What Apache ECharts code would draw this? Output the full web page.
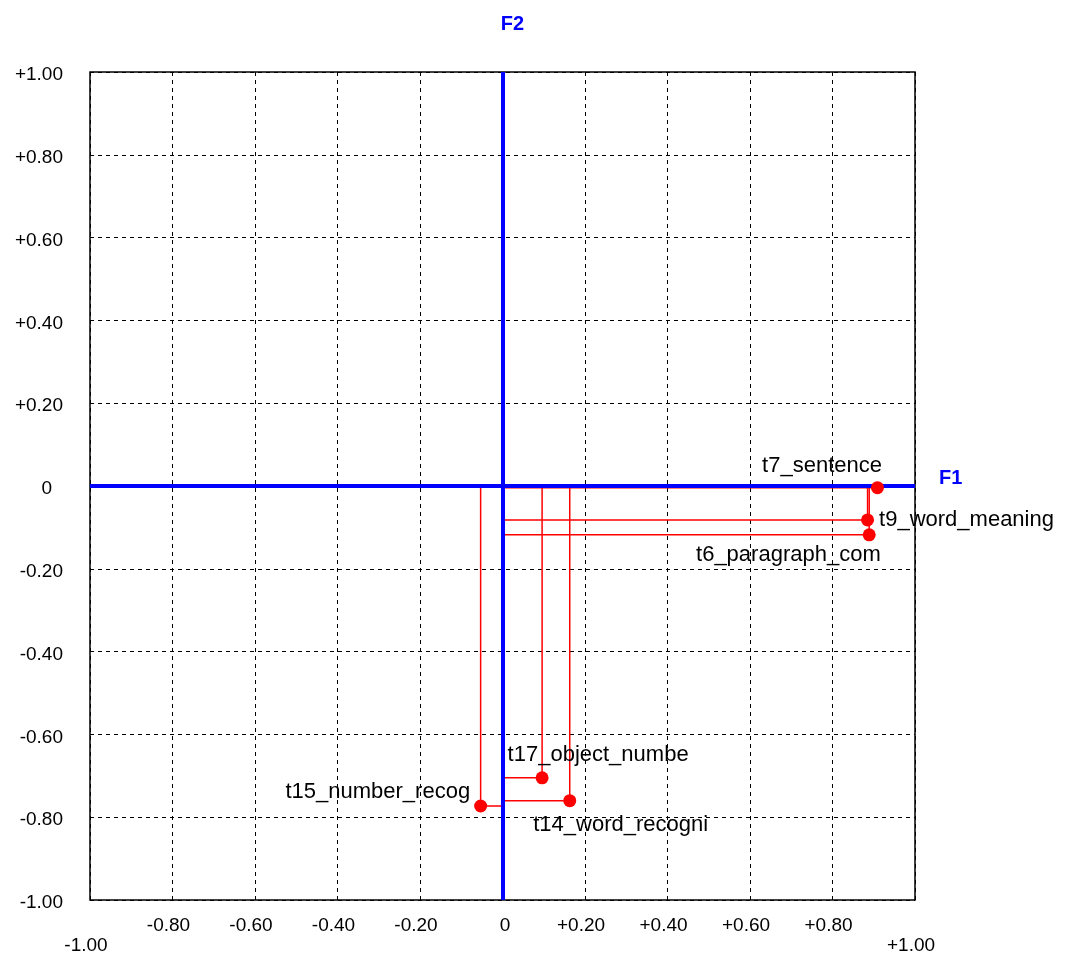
<!DOCTYPE html>
<html>
<head>
<meta charset="utf-8">
<script src="https://cdn.jsdelivr.net/npm/echarts@6/dist/echarts.min.js"></script>
<style>
html,body{margin:0;padding:0;background:#fff;}
#chart{width:1071px;height:953px;}
</style>
</head>
<body>
<div id="chart"></div>
<script>
// ---- data ----
const names = ['t7_sentence','t9_word_meaning','t6_paragraph_com','t17_object_numbe','t14_word_recogni','t15_number_recog'];
const f1Values = [0.909, 0.885, 0.889, 0.096, 0.163, -0.053];
const f2Values = [-0.004, -0.082, -0.118, -0.705, -0.760, -0.773];
const tickValues = [-1.0,-0.8,-0.6,-0.4,-0.2,0,0.2,0.4,0.6,0.8,1.0];
const tickLabels = ['-1.00','-0.80','-0.60','-0.40','-0.20','0','+0.20','+0.40','+0.60','+0.80','+1.00'];
const axisNames = ['F1','F2'];

// ---- styles ----
const FONT = '"Liberation Sans", Arial, sans-serif';
const RED = '#ff0000';
const BLUE = '#0000ff';

const labelPlacement = {
  't7_sentence':      {position:'left',  distance:5, offset:[16,-22]},
  't9_word_meaning':  {position:'right', distance:5, offset:[0,0]},
  't6_paragraph_com': {position:'left',  distance:5, offset:[23,20]},
  't17_object_numbe': {position:'right', distance:5, offset:[-46,-23]},
  't14_word_recogni': {position:'right', distance:5, offset:[-48,24]},
  't15_number_recog': {position:'left',  distance:4, offset:[0,-14]}
};

function labelFor(v){
  let best = 0, bd = Infinity;
  tickValues.forEach((t,i)=>{const d=Math.abs(t-v); if(d<bd){bd=d;best=i;}});
  return tickLabels[best];
}

const chart = echarts.init(document.getElementById('chart'), null, {renderer:'canvas'});

const connectorSeries = names.map((n,i)=>({
  type:'line',
  name:n+'_conn',
  data:[[0,f2Values[i]],[f1Values[i],f2Values[i]],[f1Values[i],0]],
  symbol:'none',
  silent:true,
  z:2,
  lineStyle:{color:RED,width:1.5,opacity:1},
  animation:false
}));

const option = {
  animation:false,
  backgroundColor:'#ffffff',
  grid:{left:90,top:72,width:825,height:828,containLabel:false,outerBoundsMode:'none',show:true,borderColor:'#000',borderWidth:1.5,backgroundColor:'transparent'},
  xAxis:{
    type:'value',min:-1,max:1,interval:0.2,
    axisLine:{show:false},axisTick:{show:false},
    splitLine:{show:true,lineStyle:{color:'#000',width:1,type:[4,4]}},
    axisLabel:{
      show:true,margin:16,showMinLabel:true,showMaxLabel:true,
      fontFamily:FONT,fontSize:19,color:'#000',
      formatter:function(v){
        const s = labelFor(v);
        if (Math.abs(Math.abs(v)-1)<1e-9) return '{low|'+s+'}';
        if (Math.abs(v)<1e-9) return '{zero|'+s+'}';
        return '{n|'+s+'}';
      },
      rich:{
        n:{fontFamily:FONT,fontSize:19,color:'#000',padding:[0,8,0,0]},
        zero:{fontFamily:FONT,fontSize:19,color:'#000',padding:[0,0,0,5]},
        low:{fontFamily:FONT,fontSize:19,color:'#000',padding:[20,8,0,0]}
      }
    }
  },
  yAxis:{
    type:'value',min:-1,max:1,interval:0.2,
    axisLine:{show:false},axisTick:{show:false},
    splitLine:{show:true,lineStyle:{color:'#000',width:1,type:[4,4]}},
    axisLabel:{
      show:true,margin:27,showMinLabel:true,showMaxLabel:true,
      fontFamily:FONT,fontSize:19,color:'#000',
      formatter:function(v){
        const s = labelFor(v);
        if (Math.abs(v)<1e-9) return '{zero|'+s+'}';
        return '{n|'+s+'}';
      },
      rich:{
        n:{fontFamily:FONT,fontSize:19,color:'#000',padding:[6,0,0,0]},
        zero:{fontFamily:FONT,fontSize:19,color:'#000',padding:[5,11,0,0]}
      }
    }
  },
  series:[
    ...connectorSeries,
    {
      type:'line',
      name:'axes',
      data:[],
      z:3,
      silent:true,
      markLine:{
        silent:true,
        symbol:'none',
        animation:false,
        lineStyle:{color:BLUE,width:4,type:'solid',opacity:1},
        data:[
          {yAxis:0,label:{show:true,position:'end',formatter:axisNames[0],distance:24,offset:[0,-8],color:BLUE,fontFamily:FONT,fontSize:20,fontWeight:'bold'}},
          {xAxis:0,label:{show:true,position:'end',formatter:axisNames[1],distance:38,offset:[10,0],color:BLUE,fontFamily:FONT,fontSize:20,fontWeight:'bold'}}
        ]
      }
    },
    {
      type:'scatter',
      name:'points',
      z:5,
      symbol:'circle',
      symbolSize:13,
      itemStyle:{color:RED,opacity:1},
      data:names.map((n,i)=>({
        name:n,
        value:[f1Values[i],f2Values[i]],
        label:Object.assign({show:true,formatter:n,fontFamily:FONT,fontSize:22,color:'#000'},labelPlacement[n])
      }))
    }
  ]
};
chart.setOption(option);
</script>
</body>
</html>
